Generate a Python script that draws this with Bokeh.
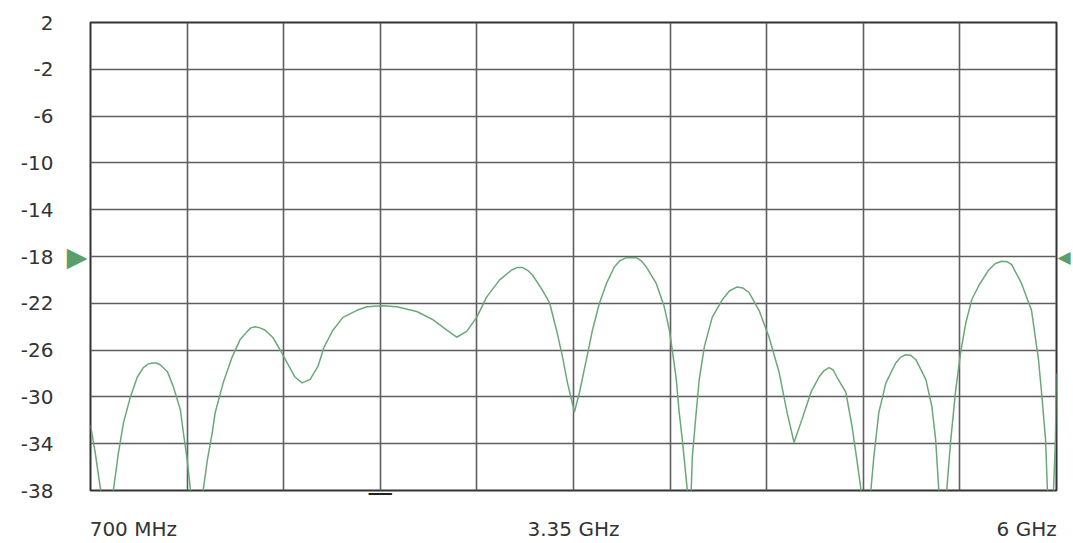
from bokeh.plotting import figure
from bokeh.models import Range1d, FixedTicker, LinearAxis
from bokeh.embed import file_html
from bokeh.resources import INLINE

# Frequency (MHz) and level (dB)
freq_mhz = [700, 727, 755, 788, 826, 853, 881, 919, 957, 990, 1015, 1039, 1060, 1083, 1122, 1154, 1193,
            1209, 1231, 1248, 1286, 1319, 1341, 1368, 1384, 1428, 1477, 1521, 1560, 1580, 1603,
            1630, 1658, 1702, 1740, 1779, 1822, 1861, 1905, 1948, 1980, 2030, 2085, 2162, 2217,
            2299, 2381, 2490, 2578, 2655, 2709, 2764, 2819, 2874, 2945, 3011, 3040, 3071, 3100, 3126,
            3180, 3219, 3257, 3290, 3317, 3355, 3383, 3421, 3454, 3492, 3531, 3574, 3605, 3640,
            3695, 3720, 3750, 3804, 3848, 3876, 3892, 3914, 3930, 3947, 3974, 3985, 3996, 4002,
            4023, 4040, 4068, 4111, 4166, 4205, 4248, 4280, 4314, 4368, 4423, 4478, 4522, 4560, 4604,
            4653, 4697, 4725, 4752, 4775, 4795, 4844, 4878, 4905, 4927, 4954, 4982, 4998, 5025, 5064,
            5118, 5145, 5173, 5200, 5228, 5283, 5316, 5337, 5354, 5376, 5398, 5420, 5447, 5474, 5502,
            5535, 5573, 5628, 5665, 5699, 5730, 5754, 5808, 5863, 5901, 5918, 5940, 5950, 5968, 5984,
            5994, 6000]
level_db = [-32.4, -34.9, -37.9, -43.0, -37.9, -34.8, -32.2, -30.0, -28.3, -27.5, -27.2, -27.1,
            -27.1, -27.25, -27.85, -29.1, -31.1, -33.0, -35.4, -37.9, -43.0, -37.9, -35.4, -33.05,
            -31.35, -28.8, -26.6, -25.1, -24.4, -24.1, -24.0, -24.1, -24.3, -24.95, -25.97, -27.1, -28.3,
            -28.8, -28.5, -27.4, -25.8, -24.3, -23.2, -22.6, -22.3, -22.2, -22.3, -22.7,
            -23.4, -24.3, -24.9, -24.4, -23.2, -21.45, -20.0, -19.15, -18.95, -18.95, -19.2, -19.6, -20.9,
            -21.97, -24.3, -26.6, -28.8, -31.3, -29.6, -26.8, -24.3, -22.0, -20.3, -18.9, -18.35,
            -18.1, -18.1, -18.35, -18.9, -20.3, -22.3, -24.3, -26.0, -28.5, -31.35, -33.65, -37.9,
            -43.0, -37.9, -35.1, -31.35, -28.5, -25.7, -23.2, -21.7, -20.95, -20.6, -20.7, -21.1, -22.6,
            -24.9, -27.9, -31.35, -33.9, -31.9, -29.6, -28.3, -27.75, -27.5, -27.7, -28.3, -29.6, -32.5,
            -35.4, -37.9, -43.0, -37.9, -35.1, -31.35, -28.8, -27.1, -26.6, -26.4, -26.45, -26.8, -28.5,
            -30.8, -33.65, -37.9, -43.0, -37.9, -33.65, -29.4, -26.2, -23.7, -21.7, -20.5,
            -19.15, -18.6, -18.4, -18.45, -18.7, -20.3, -22.6, -26.8, -29.6, -33.65, -37.9, -43.0, -37.9,
            -33.65, -28.0]

y_ticks = [2, -2, -6, -10, -14, -18, -22, -26, -30, -34, -38]
x_grid = [700, 1230, 1760, 2290, 2820, 3350, 3880, 4410, 4940, 5470, 6000]
x_label_text = ["700 MHz", "3.35 GHz", "6 GHz"]
x_label_pos = [935, 3350, 5836]   # label centres (700 MHz / 6 GHz labels sit inside the span)
ref_level = -18
marker_freq = 2290

FONT = "DejaVu Sans"
TXT = "#333333"
GREEN = "#5a9e6a"

p = figure(width=1073, height=543, output_backend="svg", toolbar_location=None,
           x_range=Range1d(700, 6000), y_range=Range1d(-38, 2),
           min_border_left=90, min_border_right=15, min_border_top=22, min_border_bottom=10,
           background_fill_color="white", border_fill_color="white")

p.outline_line_color = "#333333"
p.outline_line_width = 2

# x axis: marker bar axis nearest the frame, labels axis below it
xa = p.xaxis[0]
xa.ticker = FixedTicker(ticks=x_label_pos)
xa.major_label_overrides = {k: t for k, t in zip(x_label_pos, x_label_text)}
xa.axis_line_color = None
xa.major_tick_line_color = None
xa.minor_tick_line_color = None
xa.major_label_standoff = 1
xa.major_label_text_font = FONT
xa.major_label_text_font_size = "20px"
xa.major_label_text_color = TXT

bar_axis = LinearAxis(ticker=FixedTicker(ticks=[marker_freq]),
                      major_label_overrides={marker_freq: "\u2014"},
                      axis_line_color=None, major_tick_line_color=None, minor_tick_line_color=None,
                      major_label_standoff=-20, major_label_text_font=FONT,
                      major_label_text_font_size="26px", major_label_text_color="#222222")
p.below = [bar_axis, xa]

# y axis: reference-level triangle nearest the frame, numbers outside it
ya = p.yaxis[0]
ya.ticker = FixedTicker(ticks=y_ticks)
ya.major_label_overrides = {t: str(t) for t in y_ticks}
ya.axis_line_color = None
ya.major_tick_line_color = None
ya.minor_tick_line_color = None
ya.major_label_standoff = 4
ya.major_label_text_font = FONT
ya.major_label_text_font_size = "20px"
ya.major_label_text_color = TXT

tri_l = LinearAxis(ticker=FixedTicker(ticks=[ref_level]),
                   major_label_overrides={ref_level: "\u25B6"},
                   axis_line_color=None, major_tick_line_color=None, minor_tick_line_color=None,
                   major_label_standoff=-3, major_label_text_font=FONT,
                   major_label_text_font_size="27px", major_label_text_color=GREEN)
tri_r = LinearAxis(ticker=FixedTicker(ticks=[ref_level]),
                   major_label_overrides={ref_level: "\u25C0"},
                   axis_line_color=None, major_tick_line_color=None, minor_tick_line_color=None,
                   major_label_standoff=-5, major_label_text_font=FONT,
                   major_label_text_font_size="17px", major_label_text_color=GREEN)
p.left = [tri_l, ya]
p.right = [tri_r]

p.xgrid.ticker = FixedTicker(ticks=x_grid)
p.ygrid.ticker = FixedTicker(ticks=y_ticks)
for g in (p.xgrid, p.ygrid):
    g.grid_line_color = "#5e5e5e"
    g.grid_line_width = 1.6

p.line(freq_mhz, level_db, line_color="#6aa878", line_width=1.5)

open("out.html", "w").write(file_html(p, INLINE))
